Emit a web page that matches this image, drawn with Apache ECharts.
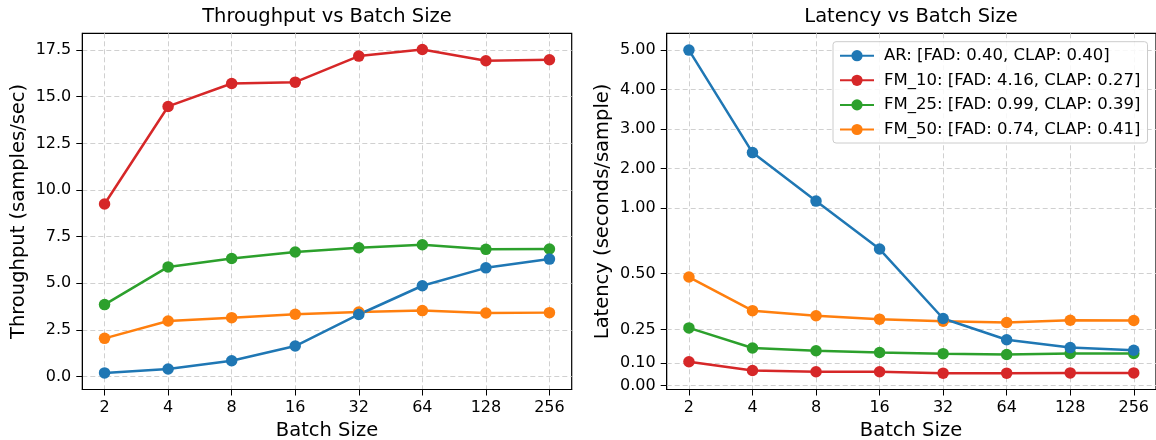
<!DOCTYPE html>
<html>
<head>
<meta charset="utf-8">
<script src="https://cdn.jsdelivr.net/npm/echarts@6/dist/echarts.min.js"></script>
<style>
html,body{margin:0;padding:0;background:#fff;}
#chart{width:1156px;height:440px;}
</style>
</head>
<body>
<div id="chart"></div>
<script>
// ---- data ----
const batchSizes = [2, 4, 8, 16, 32, 64, 128, 256];
const seriesNames = [
  'AR: [FAD: 0.40, CLAP: 0.40]',
  'FM_10: [FAD: 4.16, CLAP: 0.27]',
  'FM_25: [FAD: 0.99, CLAP: 0.39]',
  'FM_50: [FAD: 0.74, CLAP: 0.41]'
];
const throughputAR   = [0.20, 0.41, 0.85, 1.64, 3.33, 4.87, 5.83, 6.30];
const throughputFM10 = [9.25, 14.48, 15.71, 15.78, 17.18, 17.53, 16.93, 16.98];
const throughputFM25 = [3.86, 5.88, 6.33, 6.68, 6.91, 7.07, 6.82, 6.84];
const throughputFM50 = [2.05, 2.98, 3.16, 3.34, 3.46, 3.54, 3.41, 3.43];
const latencyAR   = [5.00, 2.40, 1.17, 0.61, 0.30, 0.205, 0.170, 0.158];
const latencyFM10 = [0.107, 0.068, 0.062, 0.062, 0.056, 0.056, 0.057, 0.057];
const latencyFM25 = [0.258, 0.168, 0.156, 0.148, 0.143, 0.139, 0.144, 0.144];
const latencyFM50 = [0.485, 0.335, 0.312, 0.297, 0.288, 0.282, 0.292, 0.291];
const throughputTicks = [0, 2.5, 5, 7.5, 10, 12.5, 15, 17.5];
const latencyTicks = [0, 0.1, 0.25, 0.5, 1, 2, 3, 4, 5];
const colors = ['#1f77b4', '#d62728', '#2ca02c', '#ff7f0e'];

// ---- latency axis scale (compressed above the knee) ----
const KNEE = 0.75, RATIO = 0.176;
function latFwd(v) { return v <= KNEE ? v : KNEE + (v - KNEE) * RATIO; }
function latInv(t) { return t <= KNEE ? t : KNEE + (t - KNEE) / RATIO; }

const FONT = 'DejaVu Sans';
const xPos = batchSizes.map(b => Math.log2(b));

function mkX(gridIndex) {
  return {
    type: 'value', gridIndex, min: 0.65, max: 8.35,
    axisLine: {show: true, onZero: false, lineStyle: {color: '#000', width: 1}},
    axisTick: {show: true, length: 6, customValues: xPos, lineStyle: {color: '#000', width: 1}},
    axisLabel: {
      customValues: xPos, margin: 10, color: '#000', fontSize: 16, fontFamily: FONT,
      formatter: v => String(batchSizes[xPos.findIndex(p => Math.abs(p - v) < 1e-6)])
    },
    splitLine: {show: true, lineStyle: {color: '#d0d0d0', width: 1, type: [5, 3]}}
  };
}
function mkY(gridIndex, min, max, ticks, fmt) {
  return {
    type: 'value', gridIndex, min, max,
    axisLine: {show: true, onZero: false, lineStyle: {color: '#000', width: 1}},
    axisTick: {show: true, length: 6, customValues: ticks, lineStyle: {color: '#000', width: 1}},
    axisLabel: {customValues: ticks, margin: 11, color: '#000', fontSize: 16, fontFamily: FONT, formatter: fmt},
    splitLine: {show: true, lineStyle: {color: '#d0d0d0', width: 1, type: [5, 3]}}
  };
}
function mkSeries(name, color, vals, xi, yi, tf) {
  return {
    type: 'line', name, xAxisIndex: xi, yAxisIndex: yi,
    data: vals.map((v, i) => [xPos[i], tf ? tf(v) : v]),
    symbol: 'circle', symbolSize: 11.5, showSymbol: true,
    lineStyle: {color, width: 2.5}, itemStyle: {color},
    emphasis: {disabled: true}, animation: false
  };
}

const thr = [throughputAR, throughputFM10, throughputFM25, throughputFM50];
const lat = [latencyAR, latencyFM10, latencyFM25, latencyFM50];
const order = [1, 2, 3, 0]; // AR drawn on top
const series = [];
order.forEach(k => series.push(mkSeries(seriesNames[k], colors[k], thr[k], 0, 0)));
order.forEach(k => series.push(mkSeries(seriesNames[k], colors[k], lat[k], 1, 1, latFwd)));

const chart = echarts.init(document.getElementById('chart'), null, {renderer: 'canvas'});
chart.setOption({
  animation: false,
  backgroundColor: '#fff',
  textStyle: {fontFamily: FONT},
  grid: [
    {left: 82.3, top: 33.3, width: 489.4, height: 356.2, show: true, borderColor: '#000', borderWidth: 1.2, backgroundColor: 'transparent'},
    {left: 666.7, top: 33.3, width: 490, height: 356.2, show: true, borderColor: '#000', borderWidth: 1.2, backgroundColor: 'transparent'}
  ],
  xAxis: [mkX(0), mkX(1)],
  yAxis: [
    mkY(0, -0.69, 18.40, throughputTicks, v => v.toFixed(1)),
    mkY(1, -0.017, 1.573, latencyTicks.map(latFwd), v => latInv(v).toFixed(2))
  ],
  legend: {
    data: seriesNames, orient: 'vertical', left: 833, top: 41.7,
    padding: [5.5, 7, 5, 6], itemWidth: 34, itemHeight: 14, itemGap: 7.6,
    backgroundColor: 'rgba(255,255,255,0.85)', borderColor: '#cccccc', borderWidth: 1, borderRadius: 3,
    textStyle: {fontSize: 16.5, color: '#000', fontFamily: FONT, padding: [0, 0, 0, 5]},
    selectedMode: false
  },
  graphic: [
    {type: 'text', x: 327, y: 17, style: {text: 'Throughput vs Batch Size', fontSize: 19.5, fontFamily: FONT, fill: '#000', align: 'center', verticalAlign: 'middle'}},
    {type: 'text', x: 911, y: 17, style: {text: 'Latency vs Batch Size', fontSize: 19.5, fontFamily: FONT, fill: '#000', align: 'center', verticalAlign: 'middle'}},
    {type: 'text', x: 327, y: 430.5, style: {text: 'Batch Size', fontSize: 19.5, fontFamily: FONT, fill: '#000', align: 'center', verticalAlign: 'middle'}},
    {type: 'text', x: 911, y: 430.5, style: {text: 'Batch Size', fontSize: 19.5, fontFamily: FONT, fill: '#000', align: 'center', verticalAlign: 'middle'}},
    {type: 'text', x: 18.5, y: 211.4, rotation: Math.PI / 2, style: {text: 'Throughput (samples/sec)', fontSize: 19.5, fontFamily: FONT, fill: '#000', align: 'center', verticalAlign: 'middle'}},
    {type: 'text', x: 603, y: 211.4, rotation: Math.PI / 2, style: {text: 'Latency (seconds/sample)', fontSize: 19.5, fontFamily: FONT, fill: '#000', align: 'center', verticalAlign: 'middle'}}
  ],
  series
});
</script>
</body>
</html>
